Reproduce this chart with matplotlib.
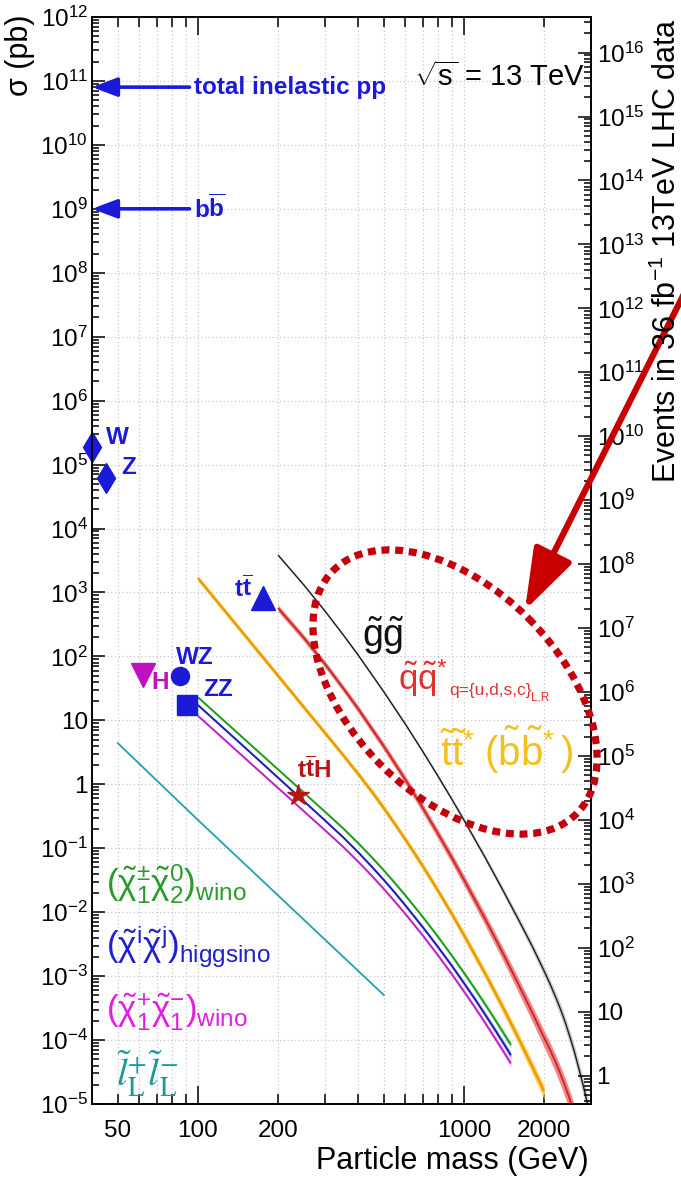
import numpy as np
import matplotlib
matplotlib.use("Agg")
import matplotlib.pyplot as plt
from matplotlib.patches import Ellipse
from matplotlib.ticker import FixedLocator, FuncFormatter, LogLocator, NullFormatter

# ---------------------------------------------------------------- data
# production cross sections at sqrt(s) = 13 TeV, sigma in pb, mass in GeV
lumi_pb = 36000.0  # 36 fb^-1 expressed in pb^-1

sigma_inelastic = 8.0e10
sigma_bbbar = 1.0e9

# Standard Model reference points (plotted position, cross section)
sm_names = ["W", "Z", "tt", "WZ", "ZZ", "H", "ttH"]
sm_mass = [40, 45, 175, 85.5, 91, 62, 237]
sm_xsec = [1.9e5, 6.2e4, 820, 49, 17.4, 51, 0.68]

gluino_mass = [200, 250, 300, 350, 400, 500, 600, 700, 800, 900, 1000, 1200, 1400,
               1600, 1800, 2000, 2100, 2200, 2300, 2400, 2500, 2600, 2700, 2800, 2900, 3000]
gluino_xsec = [3855, 1312, 514, 223, 105, 27.8, 8.9, 3.25, 1.32, 0.583, 0.274, 0.0718,
               0.0220, 7.7e-3, 2.99e-3, 1.2e-3, 7.7e-4, 4.9e-4, 3.1e-4, 1.9e-4, 1.12e-4,
               6.5e-5, 3.6e-5, 2.0e-5, 1.07e-5, 5.6e-6]
gluino_unc = [0.05, 0.05, 0.05, 0.05, 0.06, 0.06, 0.07, 0.07, 0.08, 0.08, 0.09, 0.10,
              0.12, 0.14, 0.16, 0.18, 0.195, 0.21, 0.225, 0.24, 0.255, 0.27, 0.29, 0.31,
              0.33, 0.35]

squark_mass = [200, 250, 300, 350, 400, 500, 600, 700, 800, 900, 1000, 1200, 1400,
               1600, 1800, 2000, 2100, 2200, 2300, 2400, 2500, 2600, 2700, 2800]
squark_xsec = [571, 196, 76.4, 32.7, 15.2, 3.91, 1.21, 0.426, 0.166, 0.0708, 0.0321,
               7.85e-3, 2.28e-3, 7.48e-4, 2.74e-4, 1.09e-4, 7.2e-5, 4.68e-5, 3.0e-5,
               1.9e-5, 1.17e-5, 7.0e-6, 4.2e-6, 2.4e-6]
squark_unc = [0.12, 0.12, 0.12, 0.12, 0.13, 0.14, 0.15, 0.16, 0.17, 0.18, 0.19, 0.21,
              0.23, 0.25, 0.27, 0.29, 0.30, 0.31, 0.325, 0.34, 0.355, 0.37, 0.385, 0.40]

stop_mass = [100, 150, 200, 250, 300, 350, 400, 450, 500, 550, 600, 650, 700, 750, 800,
             900, 1000, 1200, 1400, 1600, 1800, 2000]
stop_xsec = [1679, 215, 50.0, 16.1, 6.40, 2.92, 1.46, 0.769, 0.422, 0.239, 0.140, 0.0847,
             0.0524, 0.0331, 0.0213, 9.38e-3, 4.37e-3, 1.10e-3, 3.25e-4, 1.08e-4, 3.95e-5,
             1.57e-5]
stop_unc = [0.10, 0.10, 0.10, 0.10, 0.10, 0.10, 0.11, 0.11, 0.12, 0.12, 0.12, 0.13,
            0.13, 0.13, 0.13, 0.14, 0.15, 0.16, 0.18, 0.20, 0.22, 0.24]

ewk_mass = [100, 150, 200, 250, 300, 350, 400, 450, 500, 550, 600, 700, 800, 900, 1000,
            1100, 1200, 1300, 1400, 1500]
c1n2_wino_xsec = [23.0, 5.03, 1.71, 0.741, 0.374, 0.208, 0.1205, 0.0724, 0.0449, 0.0285,
                  0.0186, 8.41e-3, 4.08e-3, 2.09e-3, 1.12e-3, 6.28e-4, 3.63e-4, 2.17e-4,
                  1.33e-4, 8.4e-5]
higgsino_xsec = [17.4, 3.78, 1.27, 0.546, 0.273, 0.151, 0.0867, 0.0516, 0.0318, 0.0201,
                 0.0130, 5.82e-3, 2.82e-3, 1.45e-3, 7.74e-4, 4.35e-4, 2.51e-4, 1.50e-4,
                 9.2e-5, 5.8e-5]
c1c1_wino_xsec = [11.8, 2.58, 0.877, 0.380, 0.192, 0.107, 0.0618, 0.0372, 0.0230, 0.0146,
                  9.55e-3, 4.32e-3, 2.09e-3, 1.07e-3, 5.74e-4, 3.22e-4, 1.86e-4, 1.11e-4,
                  6.84e-5, 4.31e-5]
ewk_unc = [0.05, 0.05, 0.05, 0.05, 0.05, 0.05, 0.06, 0.06, 0.06, 0.07, 0.07, 0.07, 0.08,
           0.08, 0.09, 0.09, 0.10, 0.10, 0.11, 0.12]

slepton_mass = [50, 100, 200, 300, 400, 500]
slepton_xsec = [4.4, 0.277, 0.0183, 3.73e-3, 1.21e-3, 5.04e-4]

x_major = [100, 1000]
x_minor = [50, 60, 70, 80, 90, 200, 300, 400, 500, 600, 700, 800, 900, 2000, 3000]
x_minor_labelled = [50, 200, 2000]

# ---------------------------------------------------------------- style
plt.rcParams["font.family"] = ["Liberation Sans", "DejaVu Sans"]
plt.rcParams["mathtext.fontset"] = "custom"
plt.rcParams["mathtext.rm"] = "Liberation Sans"
plt.rcParams["mathtext.it"] = "Liberation Sans:italic"
plt.rcParams["mathtext.bf"] = "Liberation Sans:bold"
plt.rcParams["mathtext.sf"] = "Liberation Sans"

BLUE = "#1a1ad8"
C_GLU, B_GLU = "#1e1e1e", "#b8b8b8"
C_SQ, B_SQ = "#c42828", "#f27070"
C_ST, B_ST = "#e89a00", "#ffc640"
C_N2, B_N2 = "#1e9a1e", "#8fdc8f"
C_HI, B_HI = "#1c1cb0", "#8c8cf0"
C_C1, B_C1 = "#c020c0", "#f0a0f0"
C_SL = "#20a2aa"

W, H = 681, 1182
fig = plt.figure(figsize=(W / 100, H / 100), dpi=100)
ax = fig.add_axes([92 / W, 1 - 1104 / H, (591 - 92) / W, (1104 - 17) / H])
ax.set_xscale("log")
ax.set_yscale("log")
ax.set_xlim(40, 3000)
ax.set_ylim(1e-5, 1e12)

# ---------------------------------------------------------------- axes, ticks, grid
for sp in ax.spines.values():
    sp.set_linewidth(1.2)

ax.xaxis.set_major_locator(FixedLocator(x_major))
ax.xaxis.set_minor_locator(FixedLocator(x_minor))
ax.xaxis.set_major_formatter(FuncFormatter(lambda v, p: "%d" % v))
ax.xaxis.set_minor_formatter(
    FuncFormatter(lambda v, p: "%d" % v if int(round(v)) in x_minor_labelled else ""))

ax.yaxis.set_major_locator(LogLocator(base=10, numticks=40))
ax.yaxis.set_minor_locator(LogLocator(base=10, subs=np.arange(2, 10), numticks=40))
ax.yaxis.set_minor_formatter(NullFormatter())


def dec_label(v, p):
    e = int(round(np.log10(v)))
    if e == 0:
        return "1"
    if e == 1:
        return "10"
    return r"$10^{%d}$" % e


ax.yaxis.set_major_formatter(FuncFormatter(dec_label))

ax.tick_params(axis="x", which="both", direction="in", top=True, bottom=True,
               labelsize=17.5, pad=11.5, width=1.1)
ax.tick_params(axis="x", which="major", length=13)
ax.tick_params(axis="x", which="minor", length=7.5)
ax.tick_params(axis="y", which="both", direction="in", left=True, right=False,
               labelsize=17.5, pad=3, width=1.1)
ax.tick_params(axis="y", which="major", length=9.5)
ax.tick_params(axis="y", which="minor", length=5)

grid_kw = dict(color="#c8c8c8", linestyle=(0, (1, 2)), linewidth=0.9)
ax.grid(True, which="both", axis="x", **grid_kw)
ax.grid(True, which="major", axis="y", **grid_kw)
ax.set_axisbelow(True)

ax2 = ax.twinx()
ax2.set_yscale("log")
ax2.set_ylim(1e-5 * lumi_pb, 1e12 * lumi_pb)
ax2.yaxis.set_major_locator(LogLocator(base=10, numticks=40))
ax2.yaxis.set_minor_locator(LogLocator(base=10, subs=np.arange(2, 10), numticks=40))
ax2.yaxis.set_minor_formatter(NullFormatter())
ax2.yaxis.set_major_formatter(FuncFormatter(dec_label))
ax2.tick_params(axis="y", which="both", direction="in", labelsize=17.5, pad=4, width=1.1)
ax2.tick_params(axis="y", which="major", length=9.5)
ax2.tick_params(axis="y", which="minor", length=5)
for sp in ax2.spines.values():
    sp.set_linewidth(1.2)


# ---------------------------------------------------------------- curves
def band_curve(mass, xsec, unc, color, band, lw, band_alpha=0.8):
    m = np.asarray(mass, float)
    s = np.asarray(xsec, float)
    u = np.asarray(unc, float)
    ax.fill_between(m, s * (1 - u), s * (1 + u), color=band, alpha=band_alpha,
                    linewidth=0, zorder=2)
    ax.plot(m, s, color=color, lw=lw, zorder=3, solid_capstyle="butt",
            solid_joinstyle="round")


band_curve(gluino_mass, gluino_xsec, gluino_unc, C_GLU, B_GLU, 1.0, 0.7)
band_curve(squark_mass, squark_xsec, squark_unc, C_SQ, B_SQ, 1.3, 0.85)
band_curve(stop_mass, stop_xsec, stop_unc, C_ST, B_ST, 1.6, 0.85)
band_curve(ewk_mass, c1n2_wino_xsec, ewk_unc, C_N2, B_N2, 1.3)
band_curve(ewk_mass, higgsino_xsec, ewk_unc, C_HI, B_HI, 1.3)
band_curve(ewk_mass, c1c1_wino_xsec, ewk_unc, C_C1, B_C1, 1.3)
ax.plot(slepton_mass, slepton_xsec, color=C_SL, lw=1.3, zorder=3)

# ---------------------------------------------------------------- SM markers
sm = dict(zip(sm_names, zip(sm_mass, sm_xsec)))
mk = dict(clip_on=False, zorder=6, linestyle="none")
ax.plot(*sm["W"], marker="d", ms=15, color=BLUE, **mk)
ax.plot(*sm["Z"], marker="d", ms=15, color=BLUE, **mk)
ax.plot(*sm["tt"], marker="^", ms=17, color=BLUE, **mk)
ax.plot(*sm["WZ"], marker="o", ms=13, color=BLUE, **mk)
ax.plot(*sm["ZZ"], marker="s", ms=14, color=BLUE, **mk)
ax.plot(*sm["H"], marker="v", ms=17, color="#c010c0", **mk)
ax.plot(*sm["ttH"], marker="*", ms=16, color="#b81414", **mk)

lab = dict(textcoords="offset pixels", fontsize=17.5, fontweight="bold", va="center")
ax.annotate("W", sm["W"], xytext=(14, 9), color=BLUE, ha="left", **lab)
ax.annotate("Z", sm["Z"], xytext=(16, 10), color=BLUE, ha="left", **lab)
ax.annotate(r"$\mathbf{t}\overline{\mathbf{t}}$", sm["tt"], xytext=(-10, 9), color=BLUE,
            ha="right", **lab)
ax.annotate("WZ", sm["WZ"], xytext=(-4, 19), color=BLUE, ha="left", **lab)
ax.annotate("ZZ", sm["ZZ"], xytext=(16, 15), color=BLUE, ha="left", **lab)
ax.annotate("H", sm["H"], xytext=(9, -7), color="#c010c0", ha="left", **lab)
ax.annotate(r"$\mathbf{t}\overline{\mathbf{t}}\mathbf{H}$", sm["ttH"], xytext=(16, 25),
            color="#b81414", ha="center", **lab)

# total inelastic and b-bbar arrows pointing at the axis
arrow_kw = dict(arrowstyle="-|>,head_length=0.45,head_width=0.17", color=BLUE, lw=2.6,
                mutation_scale=34, shrinkA=0, shrinkB=0)
for s, txt in [(sigma_inelastic, "total inelastic pp"),
               (sigma_bbbar, r"$\mathbf{b}\overline{\mathbf{b}}$")]:
    ax.annotate("", xy=(40, s), xytext=(93, s), arrowprops=arrow_kw, annotation_clip=False)
    ax.text(97, s, txt, color=BLUE, fontsize=17.5, fontweight="bold", ha="left", va="center")

# ---------------------------------------------------------------- axis titles
fig.text(20 / W, 1 - 15 / H, u"\u03c3 (pb)", rotation=90, ha="center", va="top", fontsize=22)
fig.text(589 / W, 1 - 1161 / H, "Particle mass (GeV)", ha="right", va="center",
         fontsize=22)
fig.text(667 / W, 1 - 18 / H, r"Events in 36 fb$^{-1}$ 13TeV LHC data", rotation=90,
         ha="center", va="top", fontsize=22)

# ---------------------------------------------------------------- overlay in pixel units
ov = fig.add_axes([0, 0, 1, 1])
ov.set_xlim(0, W)
ov.set_ylim(H, 0)
ov.axis("off")
ov.patch.set_alpha(0)

ov.text(585, 77, r"$\sqrt{\mathrm{s}}$ = 13 TeV", ha="right", va="center", fontsize=21)

ov.text(362, 636, r"$\tilde{\mathrm{g}}\tilde{\mathrm{g}}$", color="#111111", fontsize=27,
        ha="left", va="center")
SQ_TXT = "#e03030"
ov.text(398, 678, r"$\tilde{\mathrm{q}}\tilde{\mathrm{q}}^{*}$", color=SQ_TXT, fontsize=25,
        ha="left", va="center")
ov.text(449, 691, "q={u,d,s,c}", color=SQ_TXT, fontsize=12.5, ha="left", va="center")
ov.text(531, 698, "L,R", color=SQ_TXT, fontsize=8.5, ha="left", va="center")
ov.text(440, 750,
        r"$\tilde{\mathrm{t}}\tilde{\mathrm{t}}^{*}\;(\tilde{\mathrm{b}}\tilde{\mathrm{b}}^{*}\,)$",
        color="#f2c020", fontsize=29, ha="left", va="center")

ov.text(106, 884, r"$(\tilde{\mathrm{\chi}}^{\pm}_{1}\tilde{\mathrm{\chi}}^{0}_{2})_{\mathrm{wino}}$",
        color="#2a9a2a", fontsize=25, ha="left", va="center")
ov.text(106, 947, r"$(\tilde{\mathrm{\chi}}^{\mathrm{i}}\tilde{\mathrm{\chi}}^{\mathrm{j}})_{\mathrm{higgsino}}$",
        color="#2020cc", fontsize=25, ha="left", va="center")
ov.text(106, 1012, r"$(\tilde{\mathrm{\chi}}^{+}_{1}\tilde{\mathrm{\chi}}^{-}_{1})_{\mathrm{wino}}$",
        color="#e020e0", fontsize=25, ha="left", va="center")
ov.text(116, 1074, r"$\tilde{\mathit{l}}^{+}_{\mathrm{L}}\tilde{\mathit{l}}^{-}_{\mathrm{L}}$",
        color="#1a9a9a", fontsize=28, ha="left", va="center", math_fontfamily="stix")

# highlighted region and pointer
ov.add_patch(Ellipse((455, 692), 344, 208, angle=45, fill=False, edgecolor="#c4000c",
                     linewidth=5.2, linestyle=(0, (1.1, 0.8)), zorder=8))
ov.annotate("", xy=(525, 610), xytext=(700, 262),
            arrowprops=dict(arrowstyle="-|>,head_length=0.5,head_width=0.17", color="#c80000",
                            lw=4.5, mutation_scale=75, shrinkA=0, shrinkB=0),
            annotation_clip=False, zorder=9)

fig.savefig("out.png", dpi=100)
